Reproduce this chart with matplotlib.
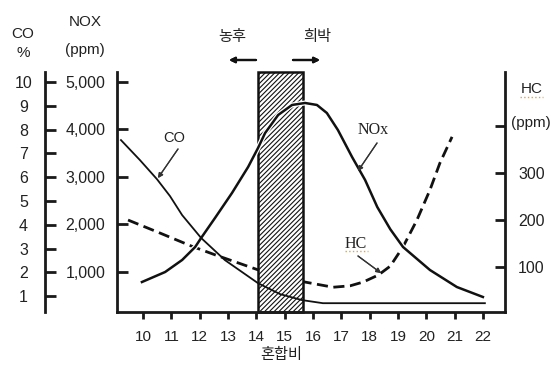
import matplotlib
matplotlib.use("Agg")
import matplotlib.pyplot as plt
import matplotlib.patheffects as pe
from matplotlib.lines import Line2D

plt.rcParams['font.family'] = ['Liberation Sans', 'Noto Sans CJK KR']
plt.rcParams['hatch.linewidth'] = 0.8

# mixture ratio ticks
ratio_ticks = list(range(10, 23))

# CO (%) curve
co_x = [9.22, 9.89, 10.49, 10.95, 11.38, 12.05, 12.89, 14.06, 14.84, 15.61, 16.35, 22.07]
co_y = [7.56, 6.72, 5.92, 5.21, 4.41, 3.45, 2.52, 1.55, 1.09, 0.84, 0.71, 0.71]

# NOx (ppm) curve
nox_x = [9.96, 10.78, 11.38, 11.84, 12.05, 12.54, 13.14, 13.71, 14.06, 14.31, 14.77, 15.26,
         15.72, 16.14, 16.49, 16.88, 17.38, 17.84, 18.27, 18.73, 19.18, 20.13, 21.08, 22.0]
nox_y = [789, 1000, 1253, 1526, 1716, 2137, 2663, 3211, 3611, 3926, 4305, 4516,
         4558, 4516, 4347, 3989, 3421, 2937, 2368, 1900, 1526, 1042, 684, 474]

# HC (ppm) curve
hc_x = [9.47, 10.53, 11.73, 12.54, 14.06, 14.84, 15.72, 16.71, 17.31, 17.77, 18.31, 18.73,
        19.18, 19.67, 20.13, 20.48, 20.91]
hc_y = [200, 174, 144, 126, 94, 79, 68, 57, 60, 68, 83, 102, 143, 200, 264, 321, 377]

# stoichiometric band
band = (14.06, 15.65)

co_ticks = list(range(1, 11))
nox_ticks = [1000, 2000, 3000, 4000, 5000]
nox_labels = ["1,000", "2,000", "3,000", "4,000", "5,000"]
hc_ticks = [100, 200, 300, 400]
hc_labels = ["100", "200", "300", ""]

W, H = 559, 376


def fp(px, py):
    # figure pixel -> figure fraction
    return px / W, 1 - py / H


fig = plt.figure(figsize=(W / 100, H / 100), dpi=100)
L, R, T, B = 117, 505, 72, 312
ax = fig.add_axes([L / W, 1 - B / H, (R - L) / W, (B - T) / H])
ax_hc = ax.twinx()
ax_co = ax.twinx()

ax.set_xlim(9.08, 22.78)
ax.set_ylim(158, 5210)
ax_hc.set_ylim(4.3, 515)
ax_co.set_ylim(0.34, 10.42)

# layering: HC + band at bottom, then NOx, then CO
ax_hc.set_zorder(1)
ax.set_zorder(2)
ax_co.set_zorder(3)
ax.patch.set_visible(False)
ax_co.patch.set_visible(False)

tc = '#1a1a1a'
lab = '#222222'

# main (NOx) axis
for s in ['top', 'right']:
    ax.spines[s].set_visible(False)
for s in ['left', 'bottom']:
    ax.spines[s].set_linewidth(2.0)
    ax.spines[s].set_color(tc)
ax.set_xticks(ratio_ticks)
ax.set_xticklabels([str(t) for t in ratio_ticks])
ax.tick_params(axis='x', direction='out', length=5, width=2, pad=8, labelsize=11,
               colors=tc, labelcolor=lab)
ax.set_yticks(nox_ticks)
ax.set_yticklabels(nox_labels)
ax.tick_params(axis='y', direction='in', length=8, width=2, pad=8.5, labelsize=11.5,
               colors=tc, labelcolor=lab)

# HC axis on the right
for s in ['top', 'left', 'bottom']:
    ax_hc.spines[s].set_visible(False)
ax_hc.spines['right'].set_linewidth(2.0)
ax_hc.spines['right'].set_color(tc)
ax_hc.set_yticks(hc_ticks)
ax_hc.set_yticklabels(hc_labels)
ax_hc.tick_params(axis='y', direction='in', length=7, width=2, pad=9.5, labelsize=11.5,
                  colors=tc, labelcolor=lab)

# CO axis, detached on the far left
for s in ['top', 'right', 'bottom']:
    ax_co.spines[s].set_visible(False)
ax_co.spines['left'].set_visible(True)
ax_co.spines['left'].set_position(('axes', (45 - L) / (R - L)))
ax_co.spines['left'].set_linewidth(2.0)
ax_co.spines['left'].set_color(tc)
ax_co.yaxis.set_ticks_position('left')
ax_co.yaxis.set_label_position('left')
ax_co.set_yticks(co_ticks)
ax_co.tick_params(axis='y', direction='in', length=8, width=2, pad=15.5, labelsize=11.5,
                  colors=tc, labelcolor=lab)
for t in ax_co.get_yticklabels():
    t.set_ha('center')

# curves
ax_hc.plot(hc_x, hc_y, color='#111111', lw=2.0, ls=(0, (4, 2)), zorder=2)
ax_hc.axvspan(band[0], band[1], facecolor='white', edgecolor='#111111', hatch='///////',
              lw=1.8, zorder=3, clip_on=False)
ax.plot(nox_x, nox_y, color='#111111', lw=1.8, zorder=3,
        path_effects=[pe.Stroke(linewidth=3.6, foreground='white'), pe.Normal()])
ax_co.plot(co_x, co_y, color='#111111', lw=1.3, zorder=3)

# axis titles
fig.text(*fp(23, 34), "CO", ha='center', va='center', fontsize=11, color=lab)
fig.text(*fp(23, 53), "%", ha='center', va='center', fontsize=11, color=lab)
fig.text(*fp(85, 22), "NOX", ha='center', va='center', fontsize=11, color=lab)
fig.text(*fp(85, 50), "(ppm)", ha='center', va='center', fontsize=11, color=lab)
fig.text(*fp(532, 89), "HC", ha='center', va='center', fontsize=11, color=lab)
fig.text(*fp(531, 123), "(ppm)", ha='center', va='center', fontsize=11, color=lab)
fig.add_artist(Line2D([520 / W, 543 / W], [1 - 97 / H] * 2, color='#e8a040', lw=1, ls=':'))
fig.text(*fp(281, 355), "혼합비", ha='center', va='center', fontsize=11,
         family='Noto Sans CJK KR', color=lab)

# rich / lean arrows
fig.text(*fp(232, 36), "농후", ha='center', va='center', fontsize=11,
         family='Noto Sans CJK KR', color=lab)
fig.text(*fp(317, 36), "희박", ha='center', va='center', fontsize=11,
         family='Noto Sans CJK KR', color=lab)
arr = dict(arrowstyle='-|>', color='#111111', lw=1.6, mutation_scale=8, shrinkA=0, shrinkB=0)
fig.add_artist(plt.annotate("", xy=fp(229, 60), xytext=fp(256, 60), xycoords='figure fraction',
                            textcoords='figure fraction', arrowprops=arr))
fig.add_artist(plt.annotate("", xy=fp(320, 60), xytext=fp(293, 60), xycoords='figure fraction',
                            textcoords='figure fraction', arrowprops=arr))

# curve labels with leaders
lead = dict(arrowstyle='-|>', color='#333333', lw=0.9, mutation_scale=7, shrinkA=0, shrinkB=0)
fig.text(*fp(174, 138), "CO", ha='center', va='center', fontsize=10.5, color=lab)
fig.add_artist(plt.annotate("", xy=fp(158, 178), xytext=fp(178, 149), xycoords='figure fraction',
                            textcoords='figure fraction', arrowprops=lead))
fig.text(*fp(373, 130), "NOx", ha='center', va='center', fontsize=11.5,
         family='Liberation Serif', color=lab)
fig.add_artist(plt.annotate("", xy=fp(358, 171), xytext=fp(377, 143), xycoords='figure fraction',
                            textcoords='figure fraction', arrowprops=lead))
fig.text(*fp(356, 244), "HC", ha='center', va='center', fontsize=11.5,
         family='Liberation Serif', color=lab)
fig.add_artist(Line2D([345 / W, 368 / W], [1 - 251 / H] * 2, color='#e8a040', lw=1, ls=':'))
fig.add_artist(plt.annotate("", xy=fp(381, 273), xytext=fp(358, 256), xycoords='figure fraction',
                            textcoords='figure fraction', arrowprops=lead))

fig.savefig("out.png", dpi=100)
